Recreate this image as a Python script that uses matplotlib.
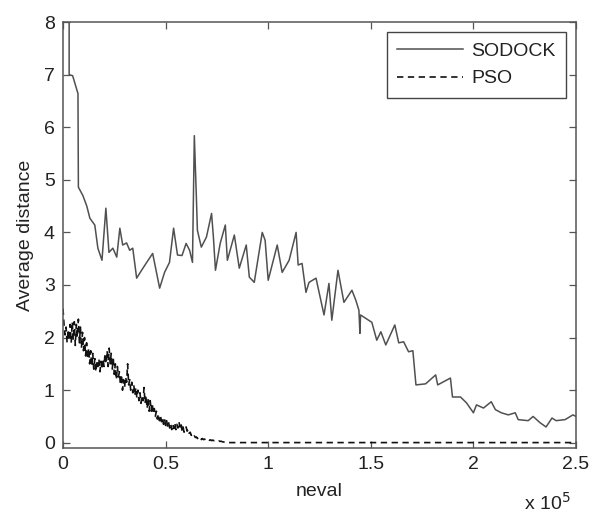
import numpy as np
import matplotlib
matplotlib.use("Agg")
import matplotlib.pyplot as plt

plt.rcParams['font.family'] = ['Liberation Sans', 'DejaVu Sans']

# SODOCK curve, neval in units of 1e5
sodock_neval = [0.03, 0.03, 0.047, 0.073, 0.075, 0.097, 0.116, 0.131, 0.155, 0.17,
                0.19, 0.209, 0.224, 0.243, 0.262, 0.277, 0.291, 0.31, 0.325, 0.34,
                0.359, 0.383, 0.408, 0.437, 0.471, 0.495, 0.519, 0.539, 0.558, 0.58,
                0.6, 0.617, 0.631, 0.64, 0.65, 0.655, 0.674, 0.699, 0.724, 0.733,
                0.743, 0.766, 0.791, 0.801, 0.835, 0.859, 0.893, 0.908, 0.932, 0.971,
                0.985, 1.0, 1.044, 1.068, 1.102, 1.136, 1.146, 1.165, 1.184, 1.199,
                1.233, 1.272, 1.296, 1.31, 1.34, 1.369, 1.408, 1.427, 1.442, 1.447,
                1.45, 1.505, 1.529, 1.549, 1.573, 1.617, 1.636, 1.66, 1.684, 1.705,
                1.72, 1.767, 1.816, 1.826, 1.888, 1.898, 1.937, 1.966, 2.0, 2.015,
                2.049, 2.087, 2.107, 2.136, 2.17, 2.204, 2.218, 2.267, 2.291, 2.325,
                2.354, 2.383, 2.403, 2.447, 2.485, 2.5]
sodock_dist = [8.6, 7.0, 6.98, 6.64, 4.86, 4.7, 4.5, 4.27, 4.14, 3.7,
               3.47, 4.46, 3.62, 3.7, 3.53, 4.08, 3.76, 3.8, 3.66, 3.7,
               3.13, 3.28, 3.43, 3.6, 2.94, 3.24, 3.43, 4.08, 3.57, 3.56,
               3.79, 3.66, 3.43, 5.84, 4.67, 4.04, 3.72, 3.91, 4.36, 3.91,
               3.28, 3.79, 4.14, 3.47, 3.95, 3.32, 3.76, 3.15, 3.05, 4.0,
               3.85, 3.09, 3.76, 3.24, 3.47, 4.0, 3.38, 3.41, 2.86, 3.05,
               3.13, 2.43, 3.03, 2.33, 3.28, 2.67, 2.9, 2.71, 2.52, 2.08,
               2.43, 2.29, 1.95, 2.11, 1.86, 2.24, 1.9, 1.92, 1.73, 1.75,
               1.1, 1.12, 1.29, 1.1, 1.23, 0.87, 0.87, 0.76, 0.57, 0.72,
               0.66, 0.78, 0.63, 0.57, 0.53, 0.57, 0.44, 0.42, 0.5, 0.38,
               0.3, 0.47, 0.42, 0.44, 0.53, 0.5]

# PSO curve, sampled every 500 evaluations up to 77500, then flat
pso_dist = [2.55, 2.25, 2.05, 2.2, 1.9, 2.15, 1.95, 2.25, 1.9, 2.3,
            1.95, 2.3, 1.85, 2.25, 2.0, 2.35, 1.9, 2.2, 1.8, 2.1,
            1.75, 2.0, 1.65, 1.9, 1.6, 1.8, 1.5, 1.75, 1.45, 1.7,
            1.4, 1.6, 1.35, 1.55, 1.45, 1.6, 1.35, 1.55, 1.4, 1.6,
            1.45, 1.7, 1.5, 1.75, 1.45, 1.8, 1.5, 1.7, 1.4, 1.6,
            1.3, 1.5, 1.2, 1.45, 1.25, 1.35, 1.1, 1.3, 1.0, 1.2,
            1.05, 1.25, 1.15, 1.5, 1.1, 1.2, 1.0, 1.15, 0.95, 1.1,
            0.9, 1.05, 0.85, 1.0, 0.8, 0.95, 0.75, 0.9, 0.8, 1.05,
            0.75, 0.9, 0.65, 0.85, 0.6, 0.8, 0.6, 0.75, 0.55, 0.65,
            0.5, 0.6, 0.45, 0.55, 0.42, 0.52, 0.4, 0.48, 0.35, 0.45,
            0.33, 0.42, 0.3, 0.38, 0.28, 0.36, 0.25, 0.35, 0.27, 0.38,
            0.25, 0.35, 0.28, 0.4, 0.3, 0.38, 0.22, 0.3, 0.2, 0.25,
            0.3, 0.22, 0.26, 0.18, 0.2, 0.14, 0.16, 0.11, 0.13, 0.1,
            0.11, 0.08, 0.1, 0.07, 0.09, 0.06, 0.08, 0.06, 0.07, 0.05,
            0.065, 0.05, 0.06, 0.045, 0.055, 0.04, 0.05, 0.04, 0.045, 0.035,
            0.04, 0.03, 0.035, 0.025, 0.03, 0.02,
            0.003, 0.003]
pso_neval = list(np.arange(0, 78000, 500)) + [80000, 250000]

xtick_vals = [0, 50000, 100000, 150000, 200000, 250000]
xtick_labels = ['0', '0.5', '1', '1.5', '2', '2.5']
ytick_vals = [0, 1, 2, 3, 4, 5, 6, 7, 8]

txt = '#222222'
fig = plt.figure(figsize=(5.92, 5.13), dpi=100)
ax = fig.add_axes([0.1064, 0.1267, 0.8666, 0.8303])

ax.plot(np.array(sodock_neval) * 1e5, sodock_dist, color='#505050', lw=1.1,
        label='SODOCK')
ax.plot(pso_neval, pso_dist, color='#111111', lw=1.2, ls=(0, (3.8, 2.7)),
        label='PSO')

ax.set_xlim(0, 250000)
ax.set_ylim(-0.1, 8)
ax.set_xticks(xtick_vals)
ax.set_xticklabels(xtick_labels)
ax.set_yticks(ytick_vals)
ax.tick_params(direction='in', length=5, width=0.9, top=True, right=True,
               labelsize=14, colors='#555555', labelcolor=txt, pad=6)
for s in ax.spines.values():
    s.set_color('#555555')
    s.set_linewidth(1.1)

ax.set_xlabel('neval', fontsize=14, color=txt, labelpad=7)
ax.set_ylabel('Average distance', fontsize=14, color=txt, labelpad=7)
fig.text(547 / 592, 1 - 503 / 513, r'x 10$^5$', fontsize=14, color=txt,
         ha='center', va='center')

leg = ax.legend(loc='upper right', fontsize=14, frameon=True, fancybox=False,
                handlelength=3.4, borderaxespad=0.5, labelcolor=txt,
                handletextpad=0.4, borderpad=0.55, labelspacing=0.5)
leg.get_frame().set_edgecolor('#444444')
leg.get_frame().set_linewidth(1.0)
leg.get_frame().set_alpha(1)

fig.savefig('out.png', dpi=100)
